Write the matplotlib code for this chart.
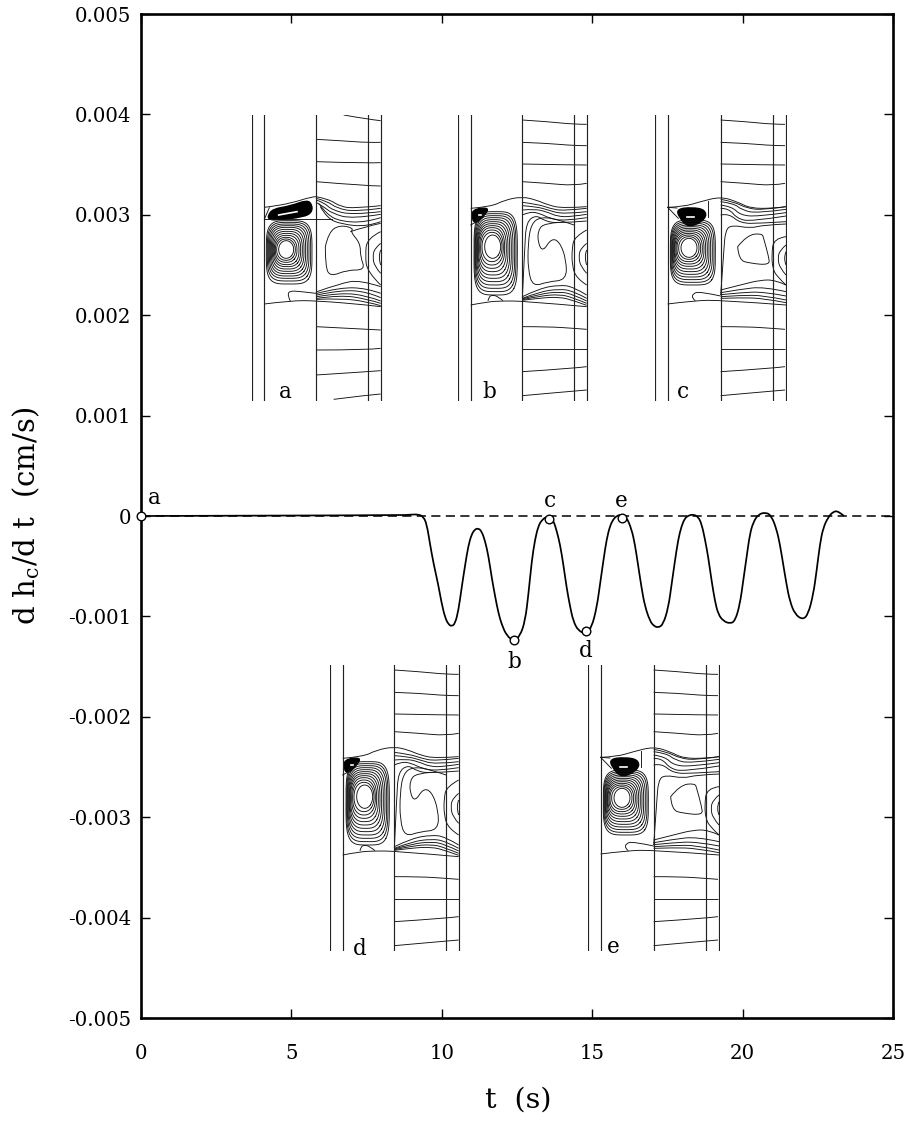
import numpy as np
import matplotlib
matplotlib.use("Agg")
import matplotlib.pyplot as plt
from matplotlib.path import Path
from matplotlib.patches import PathPatch

plt.rcParams['font.family'] = ['DejaVu Serif']
plt.rcParams['mathtext.fontset'] = 'dejavuserif'

# main curve
t_s = [0, 8.61, 8.94, 9.22, 9.39, 9.50, 9.61, 9.72, 9.88, 9.99, 10.11, 10.22, 10.33, 10.44, 10.55, 10.66,
       10.77, 10.88, 10.99, 11.10, 11.21, 11.32, 11.44, 11.55, 11.66, 11.77, 11.88, 11.99, 12.16, 12.40,
       12.60, 12.77, 12.88, 12.99, 13.10, 13.21, 13.32, 13.46, 13.57, 13.71, 13.82, 13.93, 14.04, 14.15,
       14.26, 14.37, 14.54, 14.79, 14.98, 15.15, 15.26, 15.37, 15.48, 15.59, 15.70, 15.81, 15.98, 16.14,
       16.31, 16.42, 16.53, 16.64, 16.75, 16.92, 17.05, 17.20, 17.36, 17.53, 17.64, 17.75, 17.86, 17.97,
       18.08, 18.19, 18.36, 18.53, 18.64, 18.75, 18.86, 18.97, 19.08, 19.19, 19.36, 19.58, 19.75, 19.91,
       20.02, 20.13, 20.24, 20.35, 20.52, 20.78, 20.96, 21.13, 21.24, 21.35, 21.46, 21.57, 21.74, 22.00,
       22.18, 22.35, 22.46, 22.57, 22.68, 22.85, 23.01, 23.18, 23.37]
dhdt_milli = [0, .007, .013, .017, -.007, -.083, -.282, -.465, -.681, -.863, -1.013, -1.079, -1.099, -1.072,
              -.946, -.714, -.498, -.299, -.183, -.133, -.123, -.149, -.249, -.398, -.614, -.797, -.963,
              -1.079, -1.195, -1.245, -1.195, -1.046, -.780, -.448, -.232, -.100, -.043, -.010, -.007, -.043,
              -.149, -.282, -.481, -.714, -.896, -1.046, -1.145, -1.172, -1.112, -.913, -.681, -.448, -.232,
              -.100, -.033, 0, .017, -.010, -.133, -.282, -.498, -.714, -.896, -1.046, -1.096, -1.112, -1.079,
              -.913, -.681, -.448, -.232, -.100, -.023, .003, .017, -.010, -.083, -.232, -.415, -.647, -.847,
              -.979, -1.046, -1.072, -1.046, -.880, -.647, -.415, -.183, -.066, .017, .037, 0, -.133, -.282,
              -.481, -.681, -.847, -.979, -1.033, -.979, -.780, -.548, -.282, -.116, -.010, .043, .050, 0]

# open circles and their letters
marker_t = [0, 12.40, 13.57, 14.79, 15.98]
marker_v = [0, -1.24, -.03, -1.15, -.017]
point_names = ['a', 'b', 'c', 'd', 'e']
point_label_t = [0.45, 12.42, 13.6, 14.8, 15.98]
point_label_v = [.18, -1.45, .15, -1.34, .15]

xticks = [0, 5, 10, 15, 20, 25]
yticks = [-.005, -.004, -.003, -.002, -.001, 0, .001, .002, .003, .004, .005]
ytick_labels = ['-0.005', '-0.004', '-0.003', '-0.002', '-0.001', '0',
                '0.001', '0.002', '0.003', '0.004', '0.005']

# contour sketches, units are 1/3 px from the top left corner of each inset
top_lines_a = [[(83, 0), (156, 13), (194, 17)], [(0, 73), (73, 77), (156, 83), (194, 82)],
               [(0, 140), (156, 145), (194, 143)], [(0, 200), (156, 213), (194, 213)],
               [(0, 635), (156, 643), (194, 645)], [(0, 705), (156, 705), (194, 700)],
               [(0, 780), (156, 770), (194, 767)], [(53, 853), (156, 840), (194, 837)]]
top_lines_b = [[(0, 15), (77, 20), (155, 28), (193, 28)], [(0, 82), (77, 85), (155, 92), (193, 92)],
               [(0, 147), (155, 150), (193, 150)], [(0, 200), (77, 205), (155, 212), (193, 205)],
               [(0, 635), (77, 635), (155, 640), (193, 643)], [(0, 702), (193, 702)],
               [(0, 770), (155, 760), (193, 755)], [(0, 842), (77, 835), (193, 825)]]

variant_a = dict(
    surface=[(37, 277), (55, 275), (115, 265), (180, 245), (192, 245)],
    interface=[(37, 567), (115, 557), (192, 557), (348, 570), (386, 575)],
    straight=[[(37, 313), (240, 313)], [(37, 313), (52, 278)]],
    blob=[(48, 302), (62, 282), (115, 273), (165, 255), (180, 268), (180, 292), (155, 306), (70, 316), (50, 312)],
    spot=[(80, 300), (135, 290)],
    bottom_loop=[(192, 535), (150, 530), (110, 527), (108, 545), (115, 558)],
    rings_left=[43, 46, 49, 52, 55, 58, 61, 64, 67, 70, 74, 80],
    rings_right=[180, 176, 171, 166, 161, 156, 151, 146, 141, 135, 130, 125],
    rings_top=[317, 322, 327, 332, 337, 343, 349, 355, 361, 367, 372, 377],
    rings_bottom=[507, 498, 490, 483, 476, 469, 462, 455, 449, 442, 436, 430],
    walls=[0, 37, 192, 348, 386],
    right=[[(192, 245), (230, 252), (265, 275), (310, 280), (386, 272)],
           [(192, 250), (225, 258), (255, 280), (310, 290), (386, 280)],
           [(192, 255), (215, 262), (240, 285), (300, 300), (386, 290)],
           [(192, 262), (215, 275), (240, 295), (300, 312), (386, 298)],
           [(200, 265), (225, 300), (270, 320), (340, 322), (386, 308)],
           [(205, 275), (225, 310), (270, 328), (345, 335), (386, 320)],
           [(220, 395), (230, 350), (265, 330), (305, 340), (295, 350), (325, 385), (325, 425), (340, 465),
            (285, 465), (235, 485), (220, 455), (220, 395)],
           [(295, 350), (340, 335), (386, 325)],
           [(386, 350), (345, 370), (340, 420), (345, 470), (386, 510)],
           [(386, 385), (368, 400), (362, 425), (368, 455), (386, 475)],
           [(386, 405), (378, 425), (386, 450)],
           [(195, 530), (265, 505), (325, 495), (386, 515)],
           [(195, 535), (265, 517), (345, 520), (386, 535)],
           [(195, 540), (265, 525), (345, 530), (386, 548)],
           [(195, 545), (265, 533), (345, 542), (386, 558)],
           [(195, 550), (265, 540), (345, 552), (386, 565)],
           [(195, 553), (265, 550), (345, 560), (386, 572)]],
    lines=top_lines_a)

variant_b = dict(
    surface=[(38, 280), (100, 275), (140, 255), (193, 245), (235, 255), (270, 270), (315, 280), (386, 275)],
    interface=[(38, 570), (90, 560), (135, 558), (193, 558), (386, 575)],
    straight=[[(38, 330), (60, 318)]],
    blob=[(42, 283), (95, 277), (78, 303), (55, 325), (42, 315)],
    spot=[(62, 300), (68, 300)],
    bottom_loop=[(90, 558), (92, 545), (105, 540), (120, 545), (135, 557)],
    rings_left=[48, 50, 52, 54, 56, 58, 60, 62, 65, 68, 72, 80],
    rings_right=[178, 174, 170, 165, 160, 155, 150, 145, 140, 136, 132, 128],
    rings_top=[290, 296, 302, 308, 314, 320, 326, 332, 338, 345, 352, 360],
    rings_bottom=[540, 530, 520, 510, 500, 490, 480, 470, 460, 450, 440, 430],
    walls=[0, 38, 193, 348, 386],
    right=[[(193, 262), (240, 268), (275, 280), (315, 288), (386, 280)],
           [(193, 272), (235, 275), (270, 285), (315, 298), (386, 290)],
           [(193, 285), (230, 282), (265, 290), (300, 305), (340, 305), (386, 298)],
           [(193, 300), (215, 290), (245, 295), (275, 310), (320, 318), (386, 308)],
           [(193, 550), (200, 400), (205, 320), (235, 300), (260, 318), (300, 325), (386, 318)],
           [(305, 322), (260, 325), (240, 345), (240, 385), (255, 410), (280, 370), (305, 380), (325, 435),
            (325, 495), (270, 500), (225, 515), (210, 465), (210, 385), (220, 325), (250, 305), (305, 315),
            (348, 330)],
           [(386, 345), (350, 365), (342, 400), (342, 450), (355, 490), (386, 510)],
           [(386, 385), (368, 400), (362, 425), (368, 455), (386, 475)],
           [(386, 405), (378, 425), (386, 450)],
           [(193, 545), (245, 520), (305, 510), (345, 515), (386, 540)],
           [(193, 550), (245, 530), (305, 522), (345, 528), (386, 550)],
           [(193, 552), (245, 537), (305, 530), (345, 538), (386, 558)],
           [(193, 554), (245, 543), (305, 538), (345, 548), (386, 565)],
           [(193, 556), (245, 549), (305, 546), (345, 556), (386, 571)]],
    lines=top_lines_b)

variant_c = dict(
    surface=[(38, 277), (86, 275), (136, 260), (197, 245), (246, 260), (286, 280), (355, 280), (393, 275)],
    interface=[(38, 567), (116, 557), (197, 555), (393, 570)],
    straight=[[(38, 277), (70, 310)], [(38, 277), (66, 279)], [(158, 258), (158, 305)]],
    blob=[(66, 282), (110, 277), (151, 284), (153, 312), (101, 340), (71, 305)],
    spot=[(95, 305), (118, 305)],
    bottom_loop=[(197, 543), (136, 530), (114, 535), (111, 550), (121, 557)],
    rings_left=[46, 48, 50, 52, 54, 56, 58, 60, 63, 66, 71, 78],
    rings_right=[181, 177, 172, 167, 162, 157, 152, 147, 142, 137, 132, 126],
    rings_top=[315, 320, 325, 330, 335, 340, 345, 350, 355, 360, 365, 370],
    rings_bottom=[510, 502, 494, 486, 478, 470, 462, 454, 447, 440, 433, 427],
    walls=[0, 38, 197, 355, 393],
    right=[[(197, 253), (236, 260), (276, 280), (326, 285), (393, 275)],
           [(197, 260), (236, 265), (261, 285), (306, 295), (393, 283)],
           [(197, 270), (231, 275), (256, 300), (306, 305), (393, 293)],
           [(197, 280), (221, 280), (246, 310), (286, 320), (393, 303)],
           [(197, 300), (221, 295), (256, 325), (316, 325), (393, 320)],
           [(197, 540), (206, 415), (211, 345), (231, 330), (286, 340), (326, 330), (393, 327)],
           [(248, 395), (276, 360), (321, 355), (326, 370), (341, 425), (344, 450), (286, 445), (251, 435),
            (248, 395)],
           [(393, 365), (356, 370), (350, 420), (353, 460), (366, 485), (393, 510)],
           [(393, 390), (375, 405), (368, 430), (375, 460), (393, 480)],
           [(393, 410), (385, 430), (393, 450)],
           [(197, 525), (256, 510), (316, 495), (361, 495), (393, 510)],
           [(197, 533), (256, 523), (326, 515), (393, 530)],
           [(197, 539), (256, 533), (326, 530), (393, 543)],
           [(197, 545), (256, 541), (326, 541), (393, 555)],
           [(197, 550), (256, 548), (326, 550), (393, 563)]],
    lines=top_lines_b)

# inset corners in px, which sketch goes where, letter below each
inset_left = [252, 458, 655, 330, 588]
inset_top = [115, 115, 115, 665, 665]
inset_shape = [variant_a, variant_b, variant_c, variant_b, variant_c]
inset_names = ['a', 'b', 'c', 'd', 'e']
inset_label_t = [4.79, 11.58, 18.03, 7.28, 15.7]
inset_label_v = [1.24, 1.24, 1.24, -4.31, -4.29]

W, H = 912, 1122


def smooth_path(points, closed=False):
    # quadratic spline through the midpoints, enough for hand read contours
    pts = np.array(points, dtype=float)
    if closed:
        mid0 = (pts[-1] + pts[0]) / 2
        verts = [mid0]
        codes = [Path.MOVETO]
        for i in range(len(pts)):
            nxt = pts[(i + 1) % len(pts)]
            verts += [pts[i], (pts[i] + nxt) / 2]
            codes += [Path.CURVE3, Path.CURVE3]
        return Path(verts, codes)
    verts = [pts[0]]
    codes = [Path.MOVETO]
    for i in range(1, len(pts) - 1):
        mid = (pts[i] + pts[i + 1]) / 2
        verts += [pts[i], mid if i < len(pts) - 2 else pts[i + 1]]
        codes += [Path.CURVE3, Path.CURVE3]
    if len(pts) == 2:
        verts.append(pts[1])
        codes.append(Path.LINETO)
    return Path(verts, codes)


def draw_inset(fig, left, top, shape):
    ax = fig.add_axes([left / W, 1 - (top + 286) / H, 132 / W, 286 / H])
    ax.set_xlim(0, 396)
    ax.set_ylim(858, 0)
    ax.axis('off')
    ax.patch.set_alpha(0)
    thin = dict(color='#111111', lw=0.65, fill=False)
    for x in shape['walls']:
        ax.plot([x, x], [0, 855], color='#222222', lw=0.85)
    x0 = shape['walls'][2]
    for line in shape['lines']:
        ax.add_patch(PathPatch(smooth_path([(x + x0, y) for x, y in line]), **thin))
    for line in shape['right'] + [shape['surface'], shape['interface'], shape['bottom_loop']]:
        ax.add_patch(PathPatch(smooth_path(line), **thin))
    for line in shape['straight']:
        ax.plot(*zip(*line), color='#111111', lw=0.65)
    ang = np.linspace(np.pi / 4, 2 * np.pi + np.pi / 4, 181)
    rings = list(zip(shape['rings_left'], shape['rings_right'], shape['rings_top'], shape['rings_bottom']))
    for (l, r, tp, b), power in zip(rings, np.linspace(4.0, 2.0, len(rings))):
        cx, cy = (l + r) / 2, (tp + b) / 2
        p = 2 / power
        xs = cx + (r - l) / 2 * np.sign(np.cos(ang)) * np.abs(np.cos(ang)) ** p
        ys = cy + (b - tp) / 2 * np.sign(np.sin(ang)) * np.abs(np.sin(ang)) ** p
        ax.plot(xs, ys, color='#111111', lw=0.65)
    ax.add_patch(PathPatch(smooth_path(shape['blob'], closed=True), fc='black', ec='black', lw=1))
    ax.plot(*zip(*shape['spot']), color='white', lw=1.2)


fig = plt.figure(figsize=(W / 100, H / 100), dpi=100)
ax = fig.add_axes([141 / W, 1 - 1018 / H, 752 / W, 1004 / H])

ax.axhline(0, color='black', lw=1.1, dashes=(6, 3.5))
curve = np.column_stack([t_s, np.array(dhdt_milli) * 1e-3])
ax.add_patch(PathPatch(smooth_path(curve), fill=False, ec='black', lw=1.25))
ax.plot(marker_t, np.array(marker_v) * 1e-3, 'o', ms=6.2, mfc='white', mec='black', mew=1.0,
        clip_on=False, zorder=5)
for name, tx, vy in zip(point_names, point_label_t, point_label_v):
    ax.text(tx, vy * 1e-3, name, ha='center', va='center', fontsize=15.5)
for name, tx, vy in zip(inset_names, inset_label_t, inset_label_v):
    ax.text(tx, vy * 1e-3, name, ha='center', va='center', fontsize=15.5)

ax.set_xlim(0, 25)
ax.set_ylim(-0.005, 0.005)
ax.set_xticks(xticks)
ax.set_yticks(yticks)
ax.set_yticklabels(ytick_labels)
ax.tick_params(direction='in', length=6.5, width=1.0, top=True, right=True, labelsize=14.2)
ax.tick_params(axis='x', pad=19)
ax.tick_params(axis='y', pad=7)
for spine in ax.spines.values():
    spine.set_linewidth(1.9)

for left, top, shape in zip(inset_left, inset_top, inset_shape):
    draw_inset(fig, left, top, shape)

fig.text(26 / W, 1 - 516 / H, r'd h$_{\mathrm{c}}$/d t  (cm/s)', rotation=90, ha='center', va='center', fontsize=21)
fig.text(518 / W, 1 - 1100 / H, 't  (s)', ha='center', va='center', fontsize=20.5)

fig.savefig('out.png', dpi=100)
